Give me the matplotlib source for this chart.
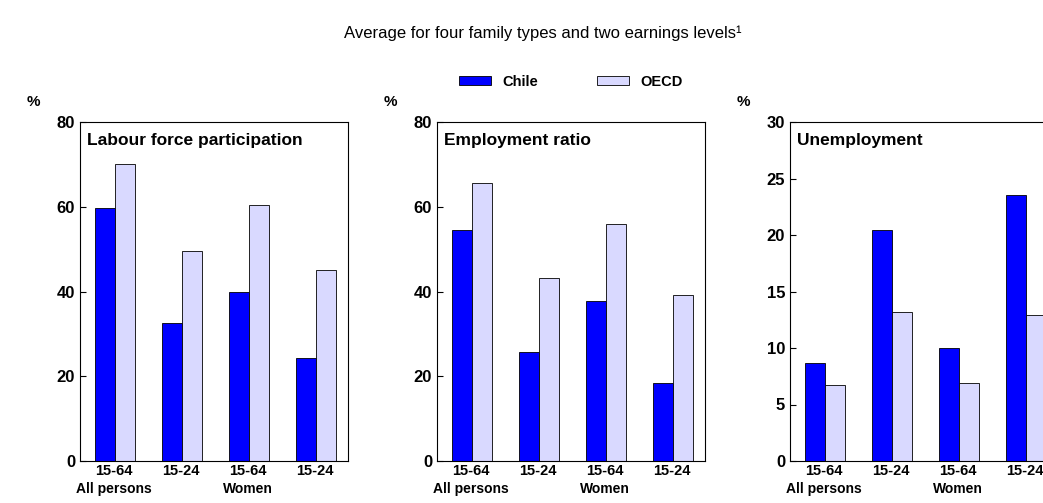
import matplotlib.pyplot as plt
import numpy as np

groups = ["15-64", "15-24", "15-64", "15-24"]
titles = ["Labour force participation", "Employment ratio", "Unemployment"]
chile = [[59.8, 32.5, 40.0, 24.2], [54.6, 25.8, 37.8, 18.5], [8.7, 20.4, 10.0, 23.5]]
oecd = [[70.2, 49.6, 60.3, 45.0], [65.6, 43.1, 56.0, 39.2], [6.7, 13.2, 6.9, 12.9]]
ylims = [(80, 20), (80, 20), (30, 5)]

plt.rcParams["font.family"] = ["Liberation Sans", "DejaVu Sans"]
fig = plt.figure(figsize=(10.43, 5.03), dpi=100)
fig.text(0.52, 0.934, "Average for four family types and two earnings levels\u00b9",
         ha="center", va="center", fontsize=12)

lefts = [80, 437, 790]
width_px = 268
x = np.arange(4)
for k in range(3):
    ax = fig.add_axes([lefts[k] / 1043, 42 / 503, width_px / 1043, 339 / 503])
    b1 = ax.bar(x - 0.13, chile[k], 0.3, color="#0000ff", edgecolor="black", linewidth=0.6, label="Chile")
    b2 = ax.bar(x + 0.17, oecd[k], 0.3, color="#d9d9ff", edgecolor="black", linewidth=0.6, label="OECD")
    top, step = ylims[k]
    ax.set_ylim(0, top)
    ax.set_xlim(-0.5, 3.5)
    ax.set_yticks(np.arange(0, top + 1, step))
    ax.set_xticks(x)
    ax.set_xticklabels(groups, fontweight="bold", fontsize=10.5)
    ax.tick_params(axis="x", length=0, pad=2)
    ax.tick_params(axis="y", direction="in", length=4, labelsize=12)
    for t in ax.get_yticklabels():
        t.set_fontweight("bold")
    ax.text(0, -0.063 * top, "All persons", ha="center", va="top", fontsize=10, fontweight="bold")
    ax.text(2, -0.063 * top, "Women", ha="center", va="top", fontsize=10, fontweight="bold")
    ax.text(-0.4, top * 0.945, titles[k], ha="left", va="center", fontsize=12.5, fontweight="bold")
    ax.text(-0.2, 1.06, "%", transform=ax.transAxes, ha="left", va="center", fontsize=11, fontweight="bold")
    if k == 1:
        ax.legend(handles=[b1, b2], loc="lower center", bbox_to_anchor=(0.5, 1.06), ncol=2,
                  frameon=False, prop={"weight": "bold", "size": 10.5}, handlelength=2.2,
                  handleheight=0.6, columnspacing=4)

fig.savefig("out.png", dpi=100)
